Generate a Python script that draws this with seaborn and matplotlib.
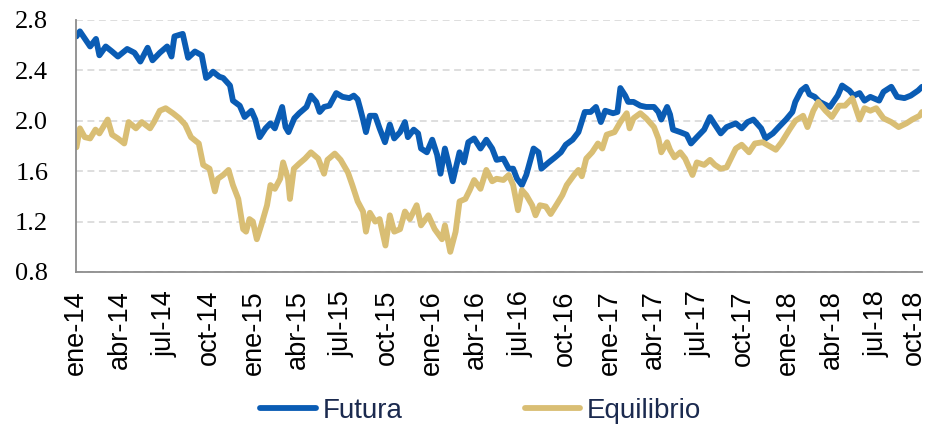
import pandas as pd
import matplotlib.pyplot as plt
import matplotlib.dates as mdates
import matplotlib.transforms as mtransforms
from matplotlib.lines import Line2D
import seaborn as sns


# values
futura_fechas = [
    '2014-01-02', '2014-01-09', '2014-01-16', '2014-01-30', '2014-02-11', '2014-02-18', '2014-03-03', '2014-03-16', '2014-03-28', '2014-04-16',
    '2014-05-01', '2014-05-13', '2014-05-28', '2014-06-07', '2014-06-22', '2014-07-07', '2014-07-16', '2014-07-22', '2014-08-08', '2014-08-19',
    '2014-09-02', '2014-09-16', '2014-09-25', '2014-10-02', '2014-10-09', '2014-10-22', '2014-10-30', '2014-11-13', '2014-11-19', '2014-12-03',
    '2014-12-13', '2014-12-27', '2015-01-04', '2015-01-13', '2015-01-25', '2015-02-04', '2015-02-13', '2015-02-28', '2015-03-07', '2015-03-13',
    '2015-03-25', '2015-04-04', '2015-04-19', '2015-04-28', '2015-05-09', '2015-05-16', '2015-05-25', '2015-06-05', '2015-06-19', '2015-07-02',
    '2015-07-16', '2015-07-25', '2015-08-02', '2015-08-07', '2015-08-13', '2015-08-19', '2015-08-27', '2015-09-07', '2015-09-16', '2015-09-27',
    '2015-10-07', '2015-10-16', '2015-10-28', '2015-11-07', '2015-11-13', '2015-11-25', '2015-12-04', '2015-12-10', '2015-12-22', '2016-01-02',
    '2016-01-12', '2016-01-19', '2016-01-28', '2016-02-04', '2016-02-13', '2016-02-19', '2016-02-27', '2016-03-07', '2016-03-16', '2016-03-28',
    '2016-04-10', '2016-04-22', '2016-05-04', '2016-05-13', '2016-05-27', '2016-06-07', '2016-06-16', '2016-06-24', '2016-07-04', '2016-07-13',
    '2016-07-28', '2016-08-07', '2016-08-13', '2016-08-28', '2016-09-10', '2016-09-22', '2016-10-02', '2016-10-16', '2016-10-28', '2016-11-10',
    '2016-11-22', '2016-12-03', '2016-12-13', '2016-12-22', '2017-01-07', '2017-01-16', '2017-01-22', '2017-02-01', '2017-02-07', '2017-02-18',
    '2017-03-04', '2017-03-16', '2017-04-01', '2017-04-10', '2017-04-16', '2017-04-28', '2017-05-04', '2017-05-10', '2017-05-25', '2017-06-07',
    '2017-06-16', '2017-06-28', '2017-07-13', '2017-07-25', '2017-08-04', '2017-08-16', '2017-08-28', '2017-09-16', '2017-09-28', '2017-10-10',
    '2017-10-22', '2017-11-07', '2017-11-16', '2017-12-01', '2017-12-13', '2017-12-28', '2018-01-10', '2018-01-16', '2018-01-28', '2018-02-07',
    '2018-02-14', '2018-02-25', '2018-03-07', '2018-03-28', '2018-04-13', '2018-04-22', '2018-05-07', '2018-05-16', '2018-05-28', '2018-06-07',
    '2018-06-19', '2018-07-07', '2018-07-16', '2018-08-01', '2018-08-13', '2018-08-28', '2018-09-10', '2018-09-25', '2018-10-03',
]
futura = [
    2.67, 2.71, 2.67, 2.59, 2.65, 2.52, 2.59, 2.55, 2.51, 2.57,
    2.54, 2.47, 2.58, 2.48, 2.54, 2.59, 2.51, 2.67, 2.69, 2.50,
    2.55, 2.52, 2.34, 2.36, 2.39, 2.35, 2.34, 2.28, 2.16, 2.12,
    2.03, 2.08, 2.01, 1.87, 1.94, 1.98, 1.94, 2.11, 1.95, 1.91,
    2.02, 2.06, 2.11, 2.20, 2.15, 2.07, 2.11, 2.12, 2.22, 2.19,
    2.18, 2.20, 2.17, 2.10, 2.01, 1.91, 2.04, 2.04, 1.94, 1.83,
    1.97, 1.86, 1.91, 1.99, 1.87, 1.93, 1.90, 1.78, 1.75, 1.85,
    1.73, 1.58, 1.78, 1.67, 1.52, 1.62, 1.75, 1.67, 1.83, 1.86,
    1.78, 1.85, 1.78, 1.69, 1.70, 1.62, 1.62, 1.54, 1.49, 1.57,
    1.78, 1.75, 1.62, 1.67, 1.71, 1.75, 1.81, 1.85, 1.91, 2.07,
    2.07, 2.11, 1.99, 2.08, 2.06, 2.07, 2.26, 2.20, 2.15, 2.15,
    2.12, 2.11, 2.11, 2.07, 2.01, 2.11, 2.05, 1.93, 1.91, 1.89,
    1.82, 1.87, 1.93, 2.03, 1.97, 1.90, 1.95, 1.98, 1.94, 1.99,
    2.01, 1.94, 1.86, 1.90, 1.95, 2.01, 2.07, 2.15, 2.24, 2.27,
    2.21, 2.19, 2.15, 2.11, 2.20, 2.28, 2.24, 2.20, 2.22, 2.16,
    2.19, 2.16, 2.23, 2.27, 2.19, 2.18, 2.20, 2.24, 2.27,
]

equilibrio_fechas = [
    '2014-01-02', '2014-01-09', '2014-01-19', '2014-01-30', '2014-02-10', '2014-02-18', '2014-03-07', '2014-03-16', '2014-03-28', '2014-04-10',
    '2014-04-19', '2014-05-04', '2014-05-16', '2014-06-02', '2014-06-10', '2014-06-22', '2014-07-04', '2014-07-19', '2014-08-01', '2014-08-13',
    '2014-08-25', '2014-09-10', '2014-09-19', '2014-10-02', '2014-10-13', '2014-10-19', '2014-10-30', '2014-11-10', '2014-11-19', '2014-11-30',
    '2014-12-10', '2014-12-16', '2014-12-23', '2014-12-30', '2015-01-07', '2015-01-16', '2015-01-28', '2015-02-04', '2015-02-13', '2015-02-24',
    '2015-03-02', '2015-03-12', '2015-03-16', '2015-03-24', '2015-04-04', '2015-04-16', '2015-04-28', '2015-05-13', '2015-05-25', '2015-06-01',
    '2015-06-16', '2015-06-28', '2015-07-13', '2015-07-22', '2015-08-02', '2015-08-13', '2015-08-19', '2015-08-27', '2015-09-07', '2015-09-16',
    '2015-09-28', '2015-10-07', '2015-10-16', '2015-10-28', '2015-11-07', '2015-11-17', '2015-12-01', '2015-12-10', '2015-12-25', '2016-01-07',
    '2016-01-22', '2016-01-28', '2016-02-08', '2016-02-19', '2016-02-27', '2016-03-10', '2016-03-19', '2016-03-28', '2016-04-10', '2016-04-22',
    '2016-05-04', '2016-05-13', '2016-05-27', '2016-06-07', '2016-06-16', '2016-06-26', '2016-07-04', '2016-07-13', '2016-07-25', '2016-08-01',
    '2016-08-10', '2016-08-22', '2016-09-01', '2016-09-14', '2016-09-25', '2016-10-04', '2016-10-19', '2016-10-28', '2016-11-04', '2016-11-13',
    '2016-11-25', '2016-12-07', '2016-12-16', '2016-12-25', '2017-01-10', '2017-01-22', '2017-02-04', '2017-02-10', '2017-02-18', '2017-03-04',
    '2017-03-16', '2017-04-01', '2017-04-10', '2017-04-16', '2017-04-28', '2017-05-04', '2017-05-13', '2017-05-25', '2017-06-04', '2017-06-19',
    '2017-06-28', '2017-07-13', '2017-07-25', '2017-08-04', '2017-08-16', '2017-08-28', '2017-09-16', '2017-09-28', '2017-10-13', '2017-10-25',
    '2017-11-10', '2017-11-28', '2017-12-07', '2017-12-19', '2018-01-04', '2018-01-16', '2018-02-01', '2018-02-10', '2018-02-22', '2018-03-04',
    '2018-03-19', '2018-04-01', '2018-04-16', '2018-04-28', '2018-05-13', '2018-05-28', '2018-06-07', '2018-06-19', '2018-07-01', '2018-07-16',
    '2018-08-01', '2018-08-16', '2018-09-01', '2018-09-13', '2018-09-28', '2018-10-03',
]
equilibrio = [
    1.79, 1.94, 1.87, 1.86, 1.93, 1.90, 2.01, 1.89, 1.86, 1.82,
    1.99, 1.94, 1.99, 1.94, 1.99, 2.08, 2.10, 2.06, 2.02, 1.97,
    1.87, 1.82, 1.65, 1.62, 1.44, 1.54, 1.57, 1.61, 1.49, 1.38,
    1.14, 1.12, 1.22, 1.20, 1.06, 1.17, 1.33, 1.49, 1.46, 1.54,
    1.67, 1.54, 1.38, 1.62, 1.66, 1.70, 1.75, 1.70, 1.58, 1.69,
    1.74, 1.69, 1.59, 1.49, 1.36, 1.28, 1.12, 1.27, 1.20, 1.22,
    1.01, 1.25, 1.12, 1.14, 1.28, 1.22, 1.33, 1.17, 1.25, 1.14,
    1.06, 1.17, 0.96, 1.12, 1.36, 1.38, 1.45, 1.53, 1.46, 1.61,
    1.52, 1.54, 1.53, 1.57, 1.49, 1.29, 1.45, 1.41, 1.33, 1.25,
    1.33, 1.32, 1.26, 1.34, 1.41, 1.49, 1.57, 1.61, 1.56, 1.70,
    1.75, 1.82, 1.78, 1.89, 1.91, 1.99, 2.06, 1.94, 2.02, 2.06,
    2.02, 1.95, 1.86, 1.75, 1.83, 1.77, 1.71, 1.75, 1.70, 1.57,
    1.67, 1.65, 1.69, 1.65, 1.62, 1.63, 1.78, 1.81, 1.75, 1.82,
    1.83, 1.79, 1.77, 1.83, 1.93, 2.00, 2.04, 1.95, 2.08, 2.15,
    2.08, 2.03, 2.12, 2.12, 2.18, 2.01, 2.10, 2.08, 2.10, 2.02,
    1.99, 1.95, 1.98, 2.01, 2.04, 2.07,
]

tick_fechas = ['2014-01-01', '2014-04-01', '2014-07-01', '2014-10-01', '2015-01-01', '2015-04-01', '2015-07-01',
               '2015-10-01', '2016-01-01', '2016-04-01', '2016-07-01', '2016-10-01', '2017-01-01', '2017-04-01',
               '2017-07-01', '2017-10-01', '2018-01-01', '2018-04-01', '2018-07-01', '2018-10-01']
tick_labels = ['ene-14', 'abr-14', 'jul-14', 'oct-14', 'ene-15', 'abr-15', 'jul-15', 'oct-15', 'ene-16', 'abr-16',
               'jul-16', 'oct-16', 'ene-17', 'abr-17', 'jul-17', 'oct-17', 'ene-18', 'abr-18', 'jul-18', 'oct-18']
y_ticks = [0.8, 1.2, 1.6, 2.0, 2.4, 2.8]

colores = {'Futura': '#0A5CB4', 'Equilibrio': '#D9BE74'}

df = pd.concat([
    pd.DataFrame({'Fecha': pd.to_datetime(futura_fechas), 'Valor': futura, 'Serie': 'Futura'}),
    pd.DataFrame({'Fecha': pd.to_datetime(equilibrio_fechas), 'Valor': equilibrio, 'Serie': 'Equilibrio'}),
])

sns.set_style('white')

fig = plt.figure(figsize=(9.3, 4.26), dpi=100)
ax = fig.add_axes([76 / 930, 1 - 272 / 426, (922 - 76) / 930, (272 - 20) / 426])

sns.lineplot(data=df, x='Fecha', y='Valor', hue='Serie', palette=colores, linewidth=4.2,
             estimator=None, legend=False, ax=ax)

ax.set_xlim(pd.Timestamp('2014-01-01'), pd.Timestamp('2018-10-03'))
ax.set_ylim(0.8, 2.8)
ax.set_xlabel('')
ax.set_ylabel('')

ax.set_yticks(y_ticks)
ax.set_yticklabels([f'{v:.1f}' for v in y_ticks], fontfamily='Liberation Serif', fontsize=19)
ax.set_xticks(mdates.date2num(pd.to_datetime(tick_fechas)))
ax.set_xticklabels(tick_labels, rotation=90, fontfamily='Liberation Sans', fontsize=19.5)

ax.yaxis.grid(True, color='#D4D4D4', linestyle=(0, (4.5, 3)), linewidth=1.1)
ax.xaxis.grid(False)
ax.set_axisbelow(True)

for side in ['top', 'right']:
    ax.spines[side].set_visible(False)
for side in ['left', 'bottom']:
    ax.spines[side].set_color('#8C8C8C')
    ax.spines[side].set_linewidth(1.3)

ax.tick_params(axis='y', direction='out', length=7, width=1.3, color='#8C8C8C', pad=13, labelcolor='black')
ax.tick_params(axis='x', direction='in', length=7, width=1.3, color='#8C8C8C', pad=13, labelcolor='black')

handles = [Line2D([], [], color=colores[s], linewidth=4.2, solid_capstyle='round') for s in ['Futura', 'Equilibrio']]
fig.legend(handles, ['Futura', 'Equilibrio'], loc='center', bbox_to_anchor=(0.517, 0.036), ncol=2,
           frameon=False, handlelength=2.0, handletextpad=0.25, columnspacing=4.4,
           prop={'family': 'Liberation Sans', 'size': 20}, labelcolor='#1B2A4F')

# keep the last label inside the canvas (after tick_params, which resets transforms)
last = ax.get_xticklabels()[-1]
last.set_transform(last.get_transform() + mtransforms.ScaledTranslation(-7 / 100, 0, fig.dpi_scale_trans))

plt.savefig('out.png', dpi=100)
